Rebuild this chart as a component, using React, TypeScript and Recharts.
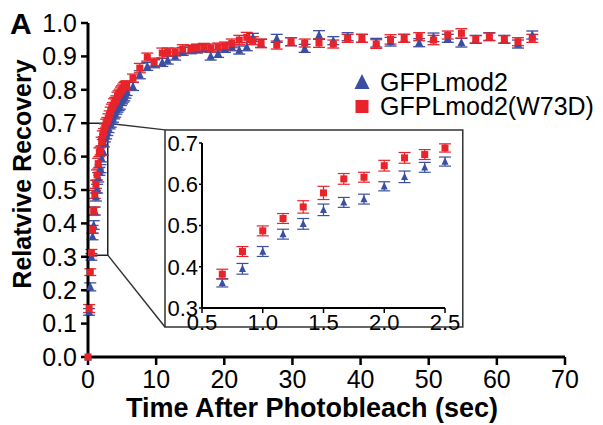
import React from "react";
import {
  ErrorBar,
  ReferenceArea,
  ReferenceLine,
  Scatter,
  ScatterChart,
  XAxis,
  YAxis,
} from "recharts";

// seconds after photobleach
const timePoints = [
  0, 0.167, 0.333, 0.5, 0.667,
  0.833, 1.0, 1.167, 1.333, 1.5, 1.667, 1.833, 2.0, 2.167, 2.333, 2.5,
  2.667, 2.833, 3.0, 3.167, 3.333, 3.5, 3.667, 3.833, 4.0, 4.167, 4.333, 4.5, 4.667, 4.833, 5.0, 5.167, 5.333, 5.5, 5.667,
  6.6, 7.6, 8.7, 9.7, 10.9, 11.7, 12.8, 13.9, 15.1, 16.0, 17.0, 18.0, 19.1, 20.1, 21.1, 22.2, 23.3, 24.2, 25.4,
  27.7, 29.8, 31.8, 33.9, 36.0, 38.1, 40.2, 42.3, 44.4, 46.4, 48.6, 50.7, 52.8, 54.8, 56.9, 58.9, 61.1, 63.1, 65.2,
];

const gfpValues = [
  0.0, 0.135, 0.21, 0.3, 0.361,
  0.395, 0.437, 0.479, 0.504, 0.538, 0.556, 0.564, 0.595, 0.618, 0.641, 0.655,
  0.665, 0.675, 0.685, 0.695, 0.7, 0.71, 0.715, 0.725, 0.73, 0.74, 0.745, 0.75, 0.755, 0.765, 0.77, 0.775, 0.78, 0.787, 0.795,
  0.81, 0.845, 0.87, 0.878, 0.882, 0.889, 0.901, 0.915, 0.92, 0.922, 0.925, 0.901, 0.909, 0.924, 0.929, 0.919, 0.929, 0.957, 0.939,
  0.954, 0.944, 0.924, 0.964, 0.947, 0.959, 0.954, 0.941, 0.944, 0.954, 0.941, 0.957, 0.954, 0.941, 0.951, 0.959, 0.951, 0.937, 0.964,
];

const gfpErrors = [
  0, 0.01, 0.012, 0.01, 0.01,
  0.013, 0.012, 0.012, 0.013, 0.014, 0.012, 0.012, 0.011, 0.014, 0.012, 0.011,
  0.012, 0.012, 0.013, 0.012, 0.012, 0.013, 0.012, 0.012, 0.012, 0.013, 0.012, 0.012, 0.013, 0.012, 0.012, 0.012, 0.013, 0.012, 0.012,
  0.012, 0.012, 0.012, 0.012, 0.012, 0.012, 0.012, 0.012, 0.012, 0.012, 0.012, 0.012, 0.012, 0.012, 0.012, 0.012, 0.012, 0.012, 0.012,
  0.012, 0.012, 0.012, 0.013, 0.012, 0.012, 0.012, 0.013, 0.013, 0.012, 0.012, 0.013, 0.012, 0.013, 0.012, 0.012, 0.012, 0.012, 0.012,
];

const w73dValues = [
  0.0, 0.145, 0.254, 0.312, 0.382,
  0.437, 0.487, 0.517, 0.545, 0.579, 0.613, 0.617, 0.645, 0.664, 0.672, 0.688,
  0.7, 0.705, 0.715, 0.725, 0.735, 0.745, 0.75, 0.76, 0.765, 0.77, 0.78, 0.785, 0.79, 0.795, 0.8, 0.805, 0.81, 0.812, 0.815,
  0.835, 0.865, 0.898, 0.883, 0.91, 0.913, 0.913, 0.922, 0.922, 0.925, 0.928, 0.925, 0.928, 0.931, 0.939, 0.949, 0.957, 0.947, 0.939,
  0.934, 0.944, 0.94, 0.94, 0.937, 0.954, 0.954, 0.937, 0.951, 0.954, 0.959, 0.949, 0.964, 0.969, 0.951, 0.959, 0.951, 0.944, 0.954,
];

const w73dErrors = [
  0, 0.012, 0.01, 0.01, 0.012,
  0.012, 0.012, 0.012, 0.015, 0.016, 0.013, 0.012, 0.013, 0.013, 0.012, 0.01,
  0.012, 0.012, 0.013, 0.012, 0.013, 0.012, 0.012, 0.013, 0.012, 0.012, 0.013, 0.012, 0.012, 0.013, 0.012, 0.012, 0.012, 0.013, 0.012,
  0.012, 0.014, 0.012, 0.012, 0.015, 0.012, 0.012, 0.013, 0.012, 0.012, 0.011, 0.012, 0.012, 0.012, 0.013, 0.014, 0.015, 0.012, 0.013,
  0.012, 0.012, 0.012, 0.013, 0.012, 0.012, 0.012, 0.013, 0.014, 0.012, 0.012, 0.014, 0.012, 0.014, 0.011, 0.011, 0.011, 0.012, 0.012,
];

const mainXTicks = [0, 10, 20, 30, 40, 50, 60, 70];
const mainYTicks = [0, 0.1, 0.2, 0.3, 0.4, 0.5, 0.6, 0.7, 0.8, 0.9, 1.0];
const insetXTicks = [0.5, 1.0, 1.5, 2.0, 2.5];
const insetYTicks = [0.3, 0.4, 0.5, 0.6, 0.7];

const BLUE = "#3a4ea2";
const RED = "#e8232a";
const FONT = "'Liberation Sans', Arial, Helvetica, sans-serif";

const gfpData = timePoints.map((t, i) => ({ t, v: gfpValues[i], e: gfpErrors[i] }));
const w73dData = timePoints.map((t, i) => ({ t, v: w73dValues[i], e: w73dErrors[i] }));
const inInset = (d: { t: number }) => d.t > 0.6 && d.t < 2.55;

const triangle = (size: number) => (p: any) => (
  <polygon
    points={`${p.cx},${p.cy - size * 0.6} ${p.cx - size / 2},${p.cy + size * 0.45} ${p.cx + size / 2},${p.cy + size * 0.45}`}
    fill={BLUE}
  />
);

const square = (size: number) => (p: any) => (
  <rect x={p.cx - size / 2} y={p.cy - size / 2} width={size} height={size} fill={RED} />
);

const fmt1 = (v: number) => v.toFixed(1);

export default function App() {
  return (
    <div style={{ position: "absolute", left: 0, top: 0, width: 603, height: 425, background: "#fff" }}>
      <ScatterChart
        width={603}
        height={425}
        margin={{ top: 23, right: 38, left: 0, bottom: 0 }}
      >
        <XAxis
          type="number"
          dataKey="t"
          domain={[0, 70]}
          ticks={mainXTicks}
          height={68}
          tickSize={8}
          tickMargin={5}
          axisLine={{ stroke: "#000", strokeWidth: 3 }}
          tickLine={{ stroke: "#000", strokeWidth: 2.5 }}
          tick={{ fill: "#000", fontSize: 25, fontFamily: FONT }}
        />
        <YAxis
          type="number"
          dataKey="v"
          domain={[0, 1]}
          ticks={mainYTicks}
          tickFormatter={fmt1}
          width={88}
          tickSize={7}
          tickMargin={4}
          axisLine={{ stroke: "#000", strokeWidth: 3 }}
          tickLine={{ stroke: "#000", strokeWidth: 2.5 }}
          tick={{ fill: "#000", fontSize: 25, fontFamily: FONT }}
        />
        <ReferenceArea x1={11.3} x2={55} y1={0.09} y2={0.68} fill="#fff" fillOpacity={1} stroke="#333" strokeWidth={1.5} />
        <ReferenceArea x1={0} x2={2.9} y1={0.305} y2={0.7} fill="none" stroke="#222" strokeWidth={1.5} />
        <ReferenceLine segment={[{ x: 2.9, y: 0.7 }, { x: 11.3, y: 0.68 }]} stroke="#333" strokeWidth={1.5} />
        <ReferenceLine segment={[{ x: 2.9, y: 0.305 }, { x: 11.3, y: 0.09 }]} stroke="#333" strokeWidth={1.5} />
        <Scatter data={gfpData} shape={triangle(8)} isAnimationActive={false}>
          <ErrorBar dataKey="e" direction="y" width={6} stroke={BLUE} strokeWidth={1.3} />
        </Scatter>
        <Scatter data={w73dData} shape={square(7)} isAnimationActive={false}>
          <ErrorBar dataKey="e" direction="y" width={6} stroke={RED} strokeWidth={1.3} />
        </Scatter>
      </ScatterChart>

      {/* inset: zoom on the first 2.5 s */}
      <div style={{ position: "absolute", left: 165, top: 130 }}>
        <ScatterChart
          width={298}
          height={215}
          margin={{ top: 13, right: 18, left: 0, bottom: 0 }}
        >
          <XAxis
            type="number"
            dataKey="t"
            domain={[0.5, 2.5]}
            ticks={insetXTicks}
            tickFormatter={fmt1}
            height={37}
            tickSize={5}
            tickMargin={1}
            axisLine={{ stroke: "#000", strokeWidth: 2 }}
            tickLine={{ stroke: "#000", strokeWidth: 1.5 }}
            tick={{ fill: "#000", fontSize: 22, fontFamily: FONT }}
          />
          <YAxis
            type="number"
            dataKey="v"
            domain={[0.3, 0.7]}
            ticks={insetYTicks}
            tickFormatter={fmt1}
            width={37}
            tickSize={3}
            tickMargin={1}
            axisLine={{ stroke: "#000", strokeWidth: 2 }}
            tickLine={{ stroke: "#000", strokeWidth: 1.5 }}
            tick={{ fill: "#000", fontSize: 22, fontFamily: FONT }}
          />
          <Scatter data={gfpData.filter(inInset)} shape={triangle(7)} isAnimationActive={false}>
            <ErrorBar dataKey="e" direction="y" width={6} stroke={BLUE} strokeWidth={1.2} />
          </Scatter>
          <Scatter data={w73dData.filter(inInset)} shape={square(7)} isAnimationActive={false}>
            <ErrorBar dataKey="e" direction="y" width={6} stroke={RED} strokeWidth={1.2} />
          </Scatter>
        </ScatterChart>
      </div>

      <svg
        width={603}
        height={425}
        style={{ position: "absolute", left: 0, top: 0, pointerEvents: "none" }}
        fontFamily={FONT}
      >
        <text x={10} y={34} fontSize={30} fontWeight="bold">A</text>
        <text transform="rotate(-90)" x={-174} y={31} fontSize={25} fontWeight="bold" textAnchor="middle">
          Relatvive Recovery
        </text>
        <text x={312} y={417} fontSize={27} fontWeight="bold" textAnchor="middle">
          Time After Photobleach (sec)
        </text>
        <polygon points="362,74 354.5,89 369.5,89" fill={BLUE} />
        <text x={380} y={91} fontSize={25}>GFPLmod2</text>
        <rect x={355.5} y={100} width={13} height={13} fill={RED} />
        <text x={380} y={115} fontSize={25}>GFPLmod2(W73D)</text>
      </svg>
    </div>
  );
}
